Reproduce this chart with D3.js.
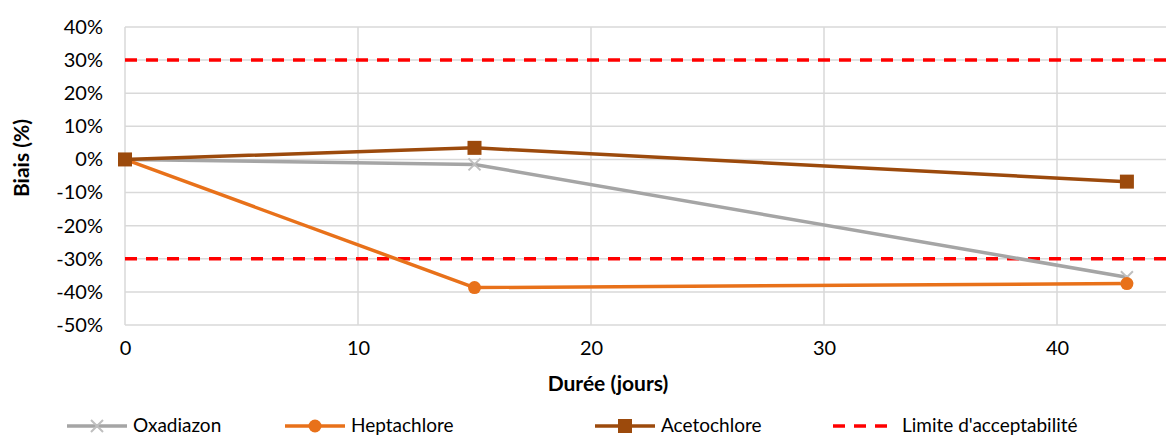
<!DOCTYPE html>
<html><head><meta charset="utf-8">
<script src="https://cdn.jsdelivr.net/npm/d3@7"></script>
<style>body{margin:0;background:#fff}svg{display:block;font-family:Lato,"Open Sans",sans-serif}</style>
</head><body><svg id="c" width="1166" height="437"></svg>
<script>
const days = [0, 15, 43];
const oxadiazon = [0, -0.015, -0.356];
const heptachlore = [0, -0.387, -0.375];
const acetochlore = [0, 0.035, -0.067];
const limits = [0.30, -0.30];
const yTicks = [0.4,0.3,0.2,0.1,0,-0.1,-0.2,-0.3,-0.4,-0.5];
const xTicks = [0,10,20,30,40];
const seriesNames = ["Oxadiazon","Heptachlore","Acetochlore","Limite d'acceptabilité"];

const svg = d3.select("#c");
const x = d3.scaleLinear().domain([0,50]).range([125,125+50*23.3]);
const y = d3.scaleLinear().domain([-0.5,0.4]).range([325,27]);
const pct = d => d3.format(".0%")(d).replace("\u2212","-");

const g = svg.append("g");
g.selectAll(".hg").data(yTicks).join("line")
 .attr("x1",125).attr("x2",1166).attr("y1",d=>y(d)).attr("y2",d=>y(d))
 .attr("stroke","#d9d9d9").attr("stroke-width",1.5);
g.selectAll(".vg").data(xTicks).join("line")
 .attr("x1",d=>x(d)).attr("x2",d=>x(d)).attr("y1",y(0.4)).attr("y2",y(-0.5))
 .attr("stroke","#d9d9d9").attr("stroke-width",1.5);

const yAxis = d3.axisLeft(y).tickValues(yTicks).tickFormat(pct).tickSize(0).tickPadding(22);
const ya = svg.append("g").attr("transform","translate(125,0)").call(yAxis);
ya.select(".domain").remove();
ya.selectAll("text").attr("font-size",20).attr("fill","#000").attr("font-family","Lato,sans-serif");
const xAxis = d3.axisBottom(x).tickValues(xTicks).tickSize(0).tickPadding(16);
const xa = svg.append("g").attr("transform","translate(0,325)").call(xAxis);
xa.select(".domain").remove();
xa.selectAll("text").attr("font-size",20).attr("fill","#000").attr("font-family","Lato,sans-serif");

g.selectAll(".lim").data(limits).join("line")
 .attr("x1",125).attr("x2",1166).attr("y1",d=>y(d)).attr("y2",d=>y(d))
 .attr("stroke","#ff0000").attr("stroke-width",3.5).attr("stroke-dasharray","12,9");

const line = d3.line().x((d,i)=>x(days[i])).y(d=>y(d));
const cols = {ox:"#a5a5a5", hep:"#e8711a", ace:"#9c4a0c"};
function drawLine(data,col){ svg.append("path").datum(data).attr("d",line).attr("fill","none").attr("stroke",col).attr("stroke-width",3.5).attr("stroke-linejoin","round"); }
drawLine(oxadiazon,cols.ox);
drawLine(heptachlore,cols.hep);
drawLine(acetochlore,cols.ace);

function xMark(sel,cx,cy){ const s=6; sel.append("path").attr("d",`M${cx-s},${cy-s}L${cx+s},${cy+s}M${cx-s},${cy+s}L${cx+s},${cy-s}`).attr("stroke","#bfbfbf").attr("stroke-width",2); }
oxadiazon.forEach((v,i)=>xMark(svg,x(days[i]),y(v)));
svg.selectAll(".hm").data(heptachlore).join("circle").attr("cx",(d,i)=>x(days[i])).attr("cy",d=>y(d)).attr("r",6.5).attr("fill",cols.hep);
svg.selectAll(".am").data(acetochlore).join("rect").attr("x",(d,i)=>x(days[i])-7).attr("y",d=>y(d)-7).attr("width",14).attr("height",14).attr("fill",cols.ace);

svg.append("text").attr("x",608).attr("y",391).attr("text-anchor","middle").attr("font-size",21).attr("font-weight","bold").text("Durée (jours)");
svg.append("text").attr("transform","translate(29,158) rotate(-90)").attr("text-anchor","middle").attr("font-size",21).attr("font-weight","bold").text("Biais (%)");

const legX = [67,285,595,833];
const ly = 426;
const lg = svg.append("g");
legX.forEach((lx,i)=>{
  if(i<3){
    const col=[cols.ox,cols.hep,cols.ace][i];
    lg.append("line").attr("x1",lx).attr("x2",lx+60).attr("y1",ly).attr("y2",ly).attr("stroke",col).attr("stroke-width",3.5);
    const mx=lx+30;
    if(i==0) xMark(lg,mx,ly);
    if(i==1) lg.append("circle").attr("cx",mx).attr("cy",ly).attr("r",6.5).attr("fill",col);
    if(i==2) lg.append("rect").attr("x",mx-7).attr("y",ly-7).attr("width",14).attr("height",14).attr("fill",col);
  } else {
    lg.append("line").attr("x1",lx).attr("x2",lx+62).attr("y1",ly).attr("y2",ly).attr("stroke","#ff0000").attr("stroke-width",3.5).attr("stroke-dasharray","12,9");
  }
  lg.append("text").attr("x",lx+(i==3?69:66)).attr("y",ly+6).attr("font-size",19).text(seriesNames[i]);
});
</script></body></html>
